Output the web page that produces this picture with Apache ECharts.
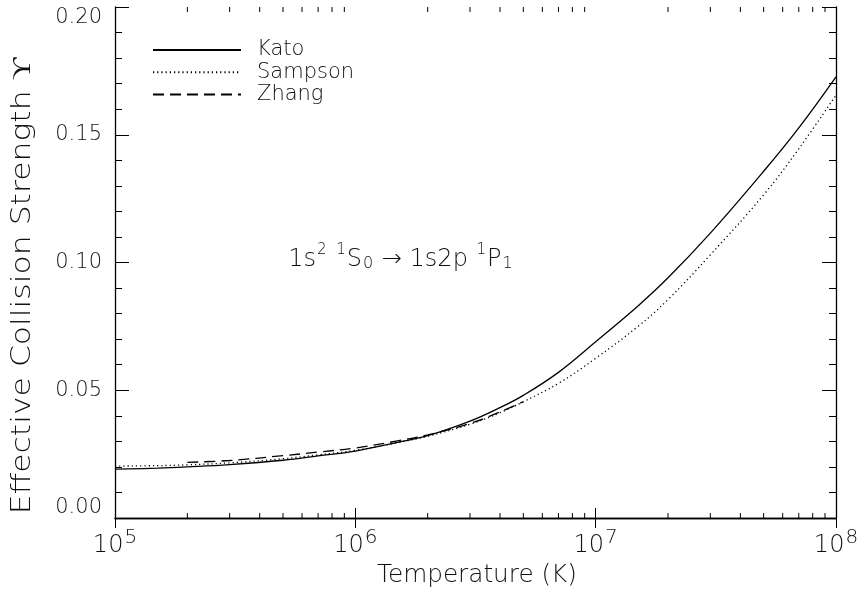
<!DOCTYPE html>
<html>
<head>
<meta charset="utf-8">
<script src="https://cdn.jsdelivr.net/npm/echarts@6/dist/echarts.min.js"></script>
<style>
  html, body { margin: 0; padding: 0; background: #fff; }
  #chart { width: 862px; height: 596px; }
</style>
</head>
<body>
<div id="chart"></div>
<script>
// Effective collision strength of the 1s2 1S0 -> 1s2p 1P1 transition vs temperature
const temperature = [1e5, 1.5e5, 2e5, 3e5, 5e5, 7e5, 1e6, 1.5e6, 2e6, 3e6, 4e6, 5e6, 7e6,
                     1e7, 1.5e7, 2e7, 3e7, 5e7, 7e7, 1e8];
const kato =    [0.0191, 0.0195, 0.0200, 0.0209, 0.0226, 0.0243, 0.0262, 0.0296, 0.0322, 0.0379,
                 0.0432, 0.0480, 0.0570, 0.0690, 0.0830, 0.0940, 0.1115, 0.1357, 0.1527, 0.1727];
const sampson = [0.0203, 0.0205, 0.0208, 0.0216, 0.0232, 0.0247, 0.0265, 0.0295, 0.0320, 0.0367,
                 0.0412, 0.0455, 0.0527, 0.0625, 0.0750, 0.0855, 0.1030, 0.1265, 0.1445, 0.1655];
const zhangTemperature = [2e5, 3e5, 5e5, 7e5, 1e6, 1.5e6, 2e6, 3e6, 4e6, 5e6];
const zhang =   [0.0218, 0.0225, 0.0244, 0.0258, 0.0274, 0.0302, 0.0325, 0.0370, 0.0415, 0.0455];

const seriesNames = ['Kato', 'Sampson', 'Zhang'];
const decadeStarts = [1e5, 1e6, 1e7];
const minorMultipliers = [2, 3, 4, 5, 6, 7, 8, 9];
const yMin = 0, yMax = 0.20, yStep = 0.05;

const FONT = 'DejaVu Sans';
const WEIGHT = 200;
const INK = '#111';

const pairs = (xs, ys) => xs.map((x, i) => [x, ys[i]]);
const minorTicks = [];
decadeStarts.forEach(d => minorMultipliers.forEach(m => minorTicks.push([m * d, 0])));

const chart = echarts.init(document.getElementById('chart'), null, { renderer: 'canvas' });

const axisLine = { show: true, lineStyle: { color: '#000', width: 1.3 } };
const txt = (size, extra) => Object.assign(
  { fontFamily: FONT, fontWeight: WEIGHT, fontSize: size, color: INK }, extra || {});

chart.setOption({
  animation: false,
  backgroundColor: '#fff',
  grid: { left: 115, right: 26, top: 7, bottom: 78, containLabel: false },
  legend: {
    data: seriesNames,
    orient: 'vertical',
    left: 152,
    top: 39,
    padding: 0,
    itemWidth: 88,
    itemHeight: 12,
    itemGap: 0.3,
    itemStyle: { opacity: 0 },
    textStyle: txt(21, { lineHeight: 22, padding: [0, 0, 0, 11] })
  },
  xAxis: [
    {
      type: 'log', logBase: 10, min: 1e5, max: 1e8, position: 'bottom',
      axisLine: axisLine,
      axisTick: { show: true, inside: true, length: 10, lineStyle: { color: '#000', width: 1 } },
      splitLine: { show: false },
      axisLabel: {
        margin: 10,
        formatter: v => '{b|10}{s|' + Math.round(Math.log10(v)) + '}',
        rich: {
          b: txt(24, { verticalAlign: 'bottom' }),
          s: txt(20, { verticalAlign: 'bottom', padding: [0, 0, 10, 1] })
        }
      }
    },
    {
      type: 'log', logBase: 10, min: 1e5, max: 1e8, position: 'top',
      axisLine: axisLine,
      axisTick: { show: true, inside: true, length: 10, lineStyle: { color: '#000', width: 1 } },
      axisLabel: { show: false },
      splitLine: { show: false }
    }
  ],
  yAxis: [
    {
      type: 'value', min: yMin, max: yMax, interval: yStep, position: 'left',
      axisLine: axisLine,
      axisTick: { show: true, inside: true, length: 14, lineStyle: { color: '#000', width: 1 } },
      minorTick: { show: true, splitNumber: 5, length: 7, lineStyle: { color: '#000', width: 1 } },
      splitLine: { show: false },
      axisLabel: txt(21, {
        margin: 13,
        formatter: v => v.toFixed(2),
        verticalAlignMinLabel: 'bottom',
        verticalAlignMaxLabel: 'top'
      })
    },
    {
      type: 'value', min: yMin, max: yMax, interval: yStep, position: 'right',
      axisLine: axisLine,
      axisTick: { show: true, inside: true, length: 14, lineStyle: { color: '#000', width: 1 } },
      minorTick: { show: true, splitNumber: 5, length: 7, lineStyle: { color: '#000', width: 1 } },
      splitLine: { show: false },
      axisLabel: { show: false }
    }
  ],
  graphic: [
    {
      type: 'text', x: 23, y: 286, rotation: Math.PI / 2, scaleX: 1.21,
      style: { text: 'Effective Collision Strength ϒ', fontFamily: FONT, fontWeight: WEIGHT,
               fontSize: 26, fill: INK, align: 'center', verticalAlign: 'middle' }
    },
    {
      type: 'text', x: 477, y: 576, scaleX: 1.03,
      style: { text: 'Temperature (K)', fontFamily: FONT, fontWeight: WEIGHT,
               fontSize: 24, fill: INK, align: 'center', verticalAlign: 'middle' }
    },
    {
      type: 'text', x: 401, y: 257,
      style: {
        text: '{m|1s}{p|2}{m| }{p|1}{m|S}{q|0}{m| → 1s2p }{p|1}{m|P}{q|1}',
        align: 'center', verticalAlign: 'middle',
        rich: {
          m: { fontFamily: FONT, fontWeight: WEIGHT, fontSize: 24, fill: INK, verticalAlign: 'bottom', lineHeight: 30 },
          p: { fontFamily: FONT, fontWeight: WEIGHT, fontSize: 15, fill: INK, verticalAlign: 'bottom', padding: [0, 1, 14, 1] },
          q: { fontFamily: FONT, fontWeight: WEIGHT, fontSize: 16, fill: INK, verticalAlign: 'bottom', padding: [0, 1, 0, 1] }
        }
      }
    }
  ],
  series: [
    {
      name: 'Kato', type: 'line', data: pairs(temperature, kato),
      showSymbol: false, symbol: 'none', smooth: 0.4,
      lineStyle: { color: '#000', width: 1.3, type: 'solid' },
      itemStyle: { color: '#000' }
    },
    {
      name: 'Sampson', type: 'line', data: pairs(temperature, sampson),
      showSymbol: false, symbol: 'none', smooth: 0.4,
      lineStyle: { color: '#000', width: 1.3, type: [1.2, 3] },
      itemStyle: { color: '#000' }
    },
    {
      name: 'Zhang', type: 'line', data: pairs(zhangTemperature, zhang),
      showSymbol: false, symbol: 'none', smooth: 0.4,
      lineStyle: { color: '#000', width: 1.3, type: [11, 6] },
      itemStyle: { color: '#000' }
    },
    {
      // minor ticks at 2..9 x 10^n on the bottom and top edges of the log axis
      name: 'minorTicks', type: 'custom', data: minorTicks, silent: true, clip: false,
      encode: { x: 0, y: 1 },
      renderItem: (params, api) => {
        const x = api.coord([api.value(0), 0])[0];
        const cs = params.coordSys;
        const st = { stroke: '#000', lineWidth: 1 };
        return {
          type: 'group',
          children: [
            { type: 'line', shape: { x1: x, y1: cs.y + cs.height, x2: x, y2: cs.y + cs.height - 5 }, style: st },
            { type: 'line', shape: { x1: x, y1: cs.y, x2: x, y2: cs.y + 5 }, style: st }
          ]
        };
      }
    }
  ]
});
</script>
</body>
</html>
